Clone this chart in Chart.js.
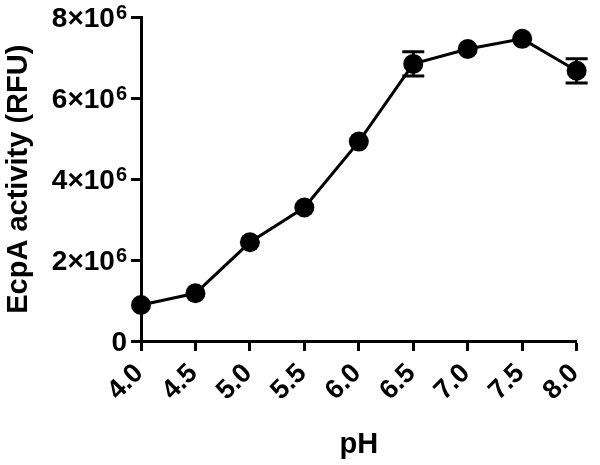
<!DOCTYPE html>
<html>
<head>
<meta charset="utf-8">
<script src="https://cdn.jsdelivr.net/npm/chart.js@4"></script>
<style>
  body { margin: 0; background: #fff; }
  #wrap { width: 600px; height: 465px; }
</style>
</head>
<body>
<div id="wrap"><canvas id="phChart" width="600" height="465"></canvas></div>
<script>
// data
const phValues = [4.0, 4.5, 5.0, 5.5, 6.0, 6.5, 7.0, 7.5, 8.0];
const activity = [0.89e6, 1.18e6, 2.44e6, 3.3e6, 4.93e6, 6.85e6, 7.22e6, 7.47e6, 6.68e6];
const activityErr = [0, 0, 0, 0, 0, 0.3e6, 0, 0, 0.3e6];
const xTickLabels = ['4.0', '4.5', '5.0', '5.5', '6.0', '6.5', '7.0', '7.5', '8.0'];
const yTickBase = ['0', '2×10', '4×10', '6×10', '8×10'];
const yTickExp = ['', '6', '6', '6', '6'];

const family = '"Liberation Sans", Arial, sans-serif';
const titleFont = { family: family, size: 29, weight: 'bold' };

// draws the vertical error bars with caps
const errorBars = {
    id: 'errorBars',
    afterDatasetsDraw(chart) {
        const ctx = chart.ctx;
        const xs = chart.scales.x, ys = chart.scales.y;
        ctx.save();
        ctx.strokeStyle = '#000';
        ctx.lineWidth = 3;
        phValues.forEach((ph, i) => {
            const e = activityErr[i];
            if (!e) return;
            const x = xs.getPixelForValue(ph);
            const top = ys.getPixelForValue(activity[i] + e);
            const bot = ys.getPixelForValue(activity[i] - e);
            ctx.beginPath();
            ctx.moveTo(x, top); ctx.lineTo(x, bot);
            ctx.moveTo(x - 11, top); ctx.lineTo(x + 11, top);
            ctx.moveTo(x - 11, bot); ctx.lineTo(x + 11, bot);
            ctx.stroke();
        });
        ctx.restore();
    }
};

// tick labels: y with a real superscript, x rotated 45 degrees
const tickLabels = {
    id: 'tickLabels',
    afterDraw(chart) {
        const ctx = chart.ctx;
        const xs = chart.scales.x, ys = chart.scales.y;
        ctx.save();
        ctx.fillStyle = '#000';
        const right = ys.right - 14;
        ys.ticks.forEach((t) => {
            const i = Math.round(t.value / 2e6);
            const y = ys.getPixelForValue(t.value);
            let x = right;
            if (yTickExp[i]) {
                ctx.font = 'bold 20px ' + family;
                ctx.textAlign = 'right';
                ctx.textBaseline = 'top';
                ctx.fillText(yTickExp[i], x, y - 14);
                x -= ctx.measureText(yTickExp[i]).width + 1;
            }
            ctx.font = 'bold 28px ' + family;
            ctx.textAlign = 'right';
            ctx.textBaseline = 'middle';
            ctx.fillText(yTickBase[i], x, y + 2);
        });
        ctx.font = 'bold 27px ' + family;
        ctx.textAlign = 'right';
        ctx.textBaseline = 'middle';
        xs.ticks.forEach((t) => {
            const i = Math.round((t.value - 4) / 0.5);
            const x = xs.getPixelForValue(t.value);
            ctx.save();
            ctx.translate(x - 2, xs.top + 28);
            ctx.rotate(-Math.PI / 4);
            ctx.fillText(xTickLabels[i], 0, 0);
            ctx.restore();
        });
        ctx.restore();
    }
};

new Chart(document.getElementById('phChart').getContext('2d'), {
    type: 'line',
    data: {
        datasets: [{
            data: phValues.map((ph, i) => ({ x: ph, y: activity[i] })),
            borderColor: '#000',
            backgroundColor: '#000',
            borderWidth: 3,
            pointRadius: 10,
            pointBackgroundColor: '#000',
            pointBorderWidth: 0,
            tension: 0,
            clip: false
        }]
    },
    options: {
        responsive: false,
        animation: false,
        layout: { padding: { top: 16, right: 13, left: 0, bottom: 0 } },
        plugins: { legend: { display: false }, tooltip: { enabled: false } },
        scales: {
            x: {
                type: 'linear',
                min: 4, max: 8,
                border: { width: 3, color: '#000' },
                grid: { drawOnChartArea: false, drawTicks: true, tickLength: 10, tickWidth: 3, color: '#000' },
                ticks: {
                    stepSize: 0.5,
                    minRotation: 45, maxRotation: 45,
                    color: 'rgba(0,0,0,0)', font: { family: family, size: 24, weight: 'bold' },
                    callback: (v) => v.toFixed(1)
                },
                title: { display: true, text: 'pH', color: '#000', font: titleFont, padding: { top: 0, bottom: 3 } },
                afterFit: (scale) => { scale.height = 124; }
            },
            y: {
                min: 0, max: 8e6,
                border: { width: 3, color: '#000' },
                grid: { drawOnChartArea: false, drawTicks: true, tickLength: 10, tickWidth: 3, color: '#000' },
                ticks: {
                    stepSize: 2e6,
                    color: 'rgba(0,0,0,0)', font: { family: family, size: 24, weight: 'bold' },
                    callback: (v) => yTickBase[Math.round(v / 2e6)] + yTickExp[Math.round(v / 2e6)]
                },
                title: { display: true, text: 'EcpA activity (RFU)', color: '#000', font: titleFont, padding: { top: 2, bottom: 0 } },
                afterFit: (scale) => { scale.width = 141; }
            }
        }
    },
    plugins: [errorBars, tickLabels]
});
</script>
</body>
</html>
